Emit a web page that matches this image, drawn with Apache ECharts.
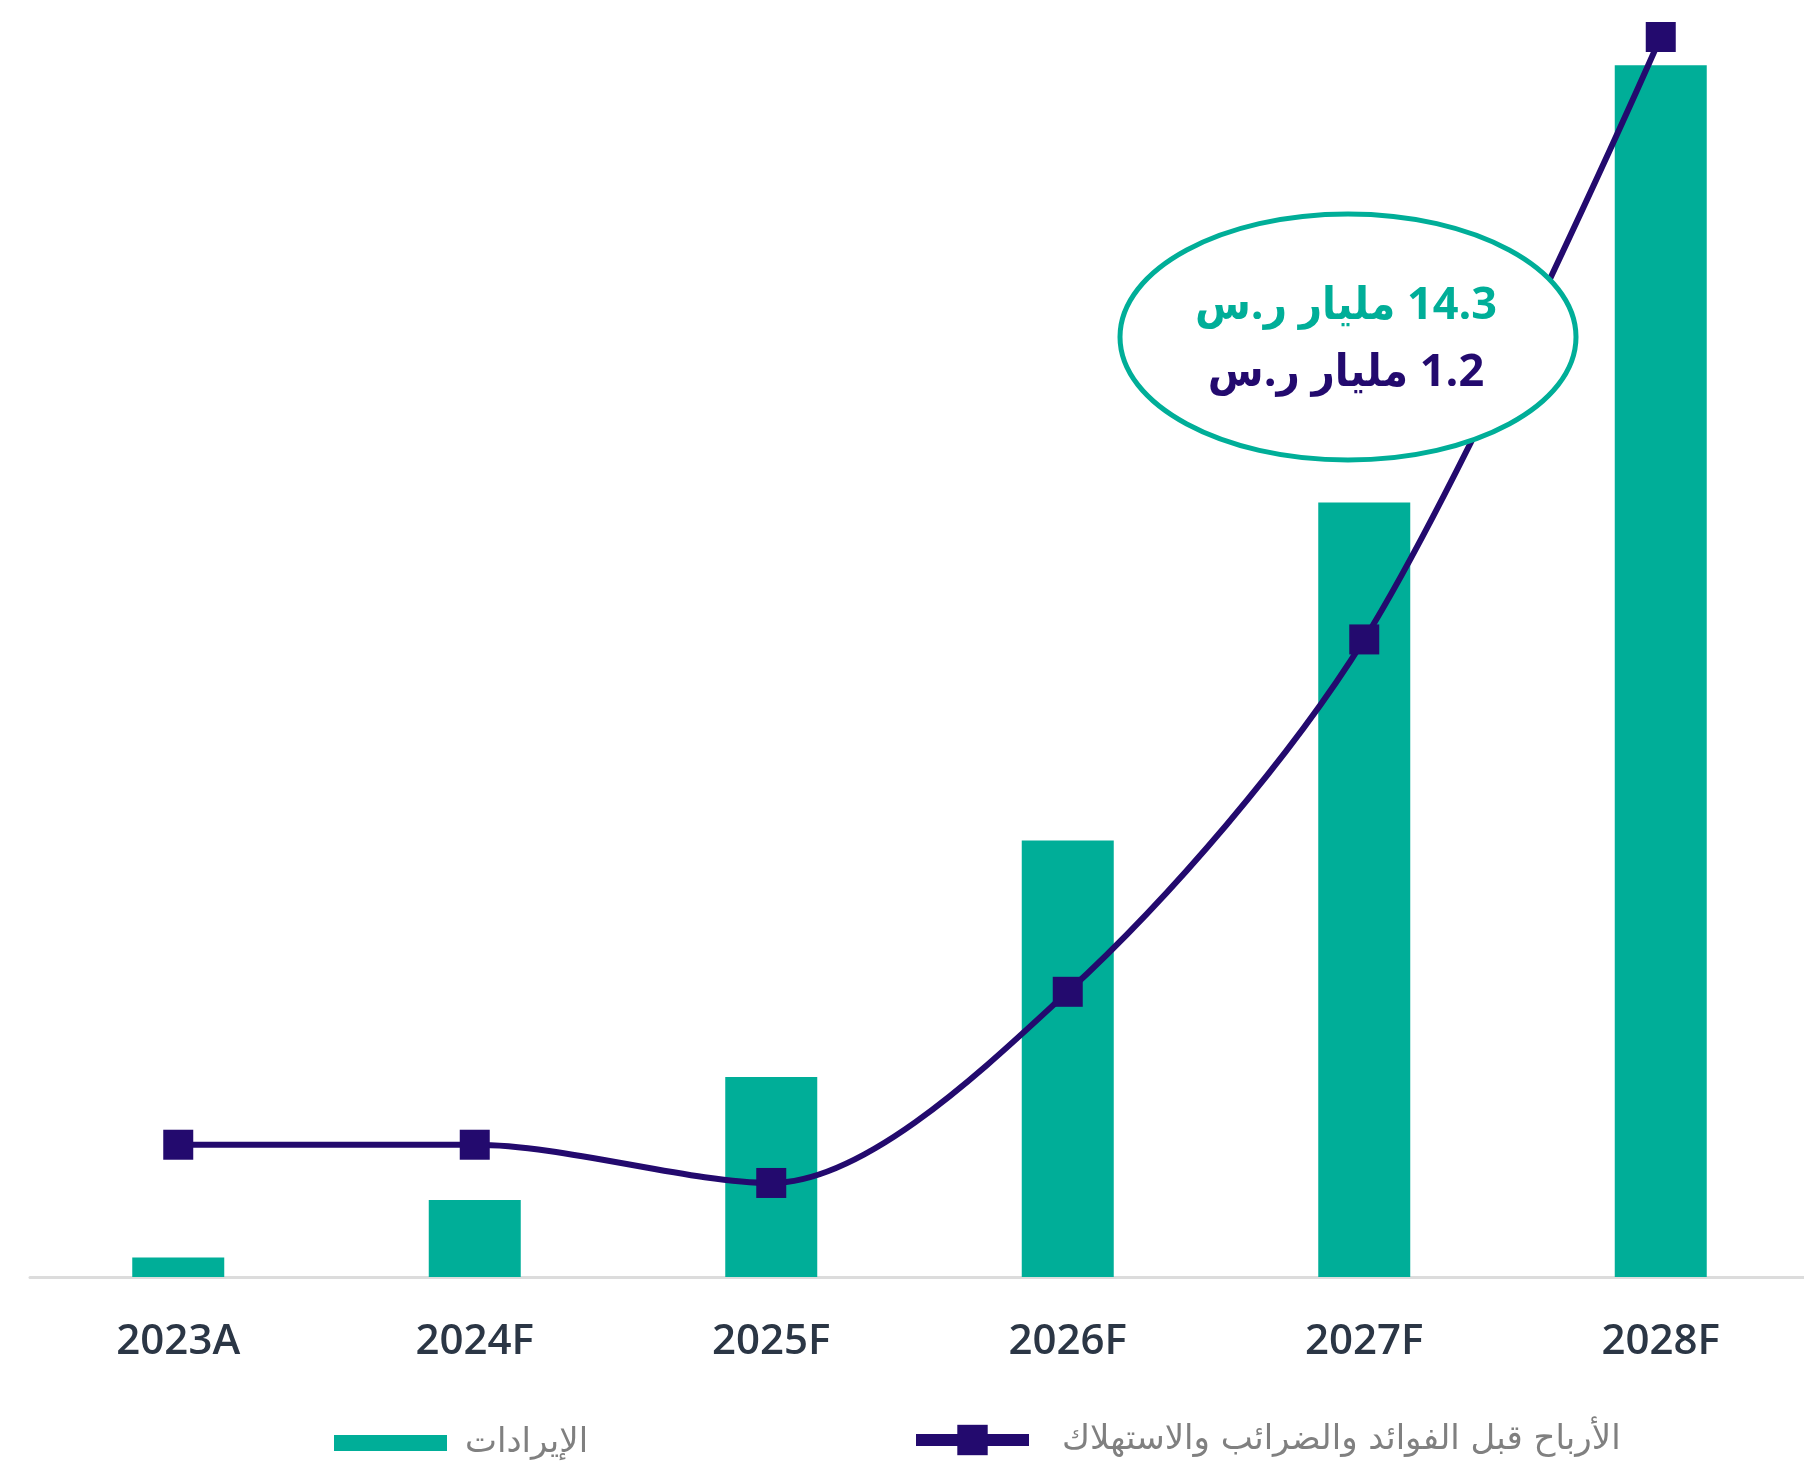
<!DOCTYPE html>
<html>
<head>
<meta charset="utf-8">
<script src="https://cdn.jsdelivr.net/npm/echarts@6/dist/echarts.min.js"></script>
<style>
html,body{margin:0;padding:0;background:#fff;overflow:hidden;}
#chart{width:1809px;height:1464px;}
</style>
</head>
<body>
<div id="chart"></div>
<script>
// Data (SAR billions)
var categories = ['2023A', '2024F', '2025F', '2026F', '2027F', '2028F'];
var revenue = [0.23, 0.91, 2.36, 5.15, 9.14, 14.3];
var ebitda = [0.128, 0.128, 0.091, 0.276, 0.617, 1.2];
var revenueName = 'الإيرادات';
var ebitdaName = 'الأرباح قبل الفوائد والضرائب والاستهلاك';
var noteRevenue = '14.3 مليار ر.س';
var noteEbitda = '1.2 مليار ر.س';

var TEAL = '#00ae98';
var INDIGO = '#230a6e';

var chart = echarts.init(document.getElementById('chart'));
chart.setOption({
  backgroundColor: '#ffffff',
  animation: false,
  grid: {left: 30, right: 0, top: 6, bottom: 187, containLabel: false},
  xAxis: {
    type: 'category',
    data: categories,
    axisLine: {show: true, lineStyle: {color: '#dcdcdc', width: 3}},
    axisTick: {show: false},
    axisLabel: {color: '#2b3645', fontSize: 42, fontWeight: 600, fontFamily: 'Open Sans', margin: 44}
  },
  yAxis: [
    {type: 'value', min: 0, max: 15, show: false, splitLine: {show: false}},
    {type: 'value', min: 0, max: 1.23, show: false, splitLine: {show: false}}
  ],
  legend: [
    {
      left: 329, top: 1421,
      itemWidth: 113, itemHeight: 16,
      icon: 'rect',
      textStyle: {color: '#808080', fontSize: 34, fontFamily: 'DejaVu Sans', padding: [0, 0, 0, 13]},
      data: [{name: revenueName}]
    },
    {
      left: 905, top: 1418,
      itemWidth: 113, itemHeight: 38,
      textStyle: {color: '#808080', fontSize: 34, fontFamily: 'DejaVu Sans', padding: [0, 0, 0, 28]},
      data: [{name: ebitdaName, lineStyle: {width: 12}}]
    }
  ],
  series: [
    {
      name: revenueName,
      type: 'bar',
      data: revenue,
      barWidth: 92,
      itemStyle: {color: TEAL},
      z: 2
    },
    {
      name: ebitdaName,
      type: 'line',
      yAxisIndex: 1,
      data: ebitda,
      smooth: 0.3,
      symbol: 'rect',
      symbolSize: 30,
      lineStyle: {color: INDIGO, width: 6},
      itemStyle: {color: INDIGO},
      z: 3
    }
  ],
  graphic: [
    {
      type: 'ellipse',
      shape: {cx: 1348, cy: 337, rx: 228, ry: 123},
      style: {fill: '#ffffff', stroke: TEAL, lineWidth: 5},
      z: 100
    },
    {
      type: 'text',
      x: 1346, y: 306,
      style: {text: '\u202B' + noteRevenue + '\u202C', fill: TEAL, font: 'bold 45px "Open Sans", "DejaVu Sans Condensed"', textAlign: 'center', textVerticalAlign: 'middle'},
      z: 101
    },
    {
      type: 'text',
      x: 1346, y: 373,
      style: {text: '\u202B' + noteEbitda + '\u202C', fill: INDIGO, font: 'bold 45px "Open Sans", "DejaVu Sans Condensed"', textAlign: 'center', textVerticalAlign: 'middle'},
      z: 101
    }
  ]
});
</script>
</body>
</html>
